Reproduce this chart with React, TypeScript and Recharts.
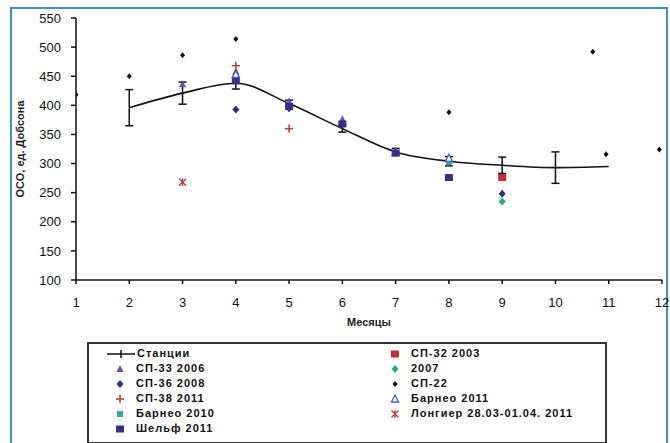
import React from "react";
import {
  ComposedChart,
  Line,
  Scatter,
  XAxis,
  YAxis,
  ErrorBar,
} from "recharts";

// месяцы и шкала
const monthTicks = [1, 2, 3, 4, 5, 6, 7, 8, 9, 10, 11, 12];
const dobsonTicks = [100, 150, 200, 250, 300, 350, 400, 450, 500, 550];

// Станции: среднее и разброс
const stationMonths = [2, 3, 4, 5, 6, 7, 8, 9, 10, 11];
const stationValues = [396, 421, 438, 403, 360, 320, 304, 297, 293, 295];
const stationErrors = [31, 19, 10, 6, 6, 6, 8, 14, 27, 0];

const sp33_2006 = [
  { x: 3, y: 436 },
  { x: 4, y: 458 },
  { x: 5, y: 407 },
  { x: 6, y: 376 },
  { x: 7, y: 322 },
];
const sp36_2008 = [
  { x: 4, y: 393 },
  { x: 5, y: 395 },
  { x: 8, y: 306 },
  { x: 9, y: 248 },
];
const sp38_2011 = [
  { x: 4, y: 468 },
  { x: 5, y: 360 },
];
const barneo2010 = [
  { x: 4, y: 448 },
  { x: 8, y: 302 },
];
const shelf2011 = [
  { x: 4, y: 442 },
  { x: 5, y: 398 },
  { x: 6, y: 368 },
  { x: 7, y: 318 },
  { x: 8, y: 276 },
];
const sp32_2003 = [{ x: 9, y: 276 }];
const year2007 = [{ x: 9, y: 235 }];
const sp22 = [
  { x: 1, y: 418 },
  { x: 2, y: 450 },
  { x: 3, y: 486 },
  { x: 4, y: 514 },
  { x: 8, y: 388 },
  { x: 10.7, y: 492 },
  { x: 10.95, y: 316 },
  { x: 11.95, y: 324 },
];
const barneo2011 = [
  { x: 4, y: 453 },
  { x: 8, y: 309 },
];
const longyear = [{ x: 3, y: 268 }];

const stationData = stationMonths.map((m, i) => ({
  x: m,
  y: stationValues[i],
  err: stationErrors[i],
}));

const FONT = "'Liberation Sans', Arial, sans-serif";

// маркеры в стиле Excel
const drawMarker = (kind: string, color: string, cx: number, cy: number) => {
  switch (kind) {
    case "triangle":
      return (
        <polygon
          points={`${cx},${cy - 4} ${cx + 3.5},${cy + 3} ${cx - 3.5},${cy + 3}`}
          fill={color}
        />
      );
    case "triOutline":
      return (
        <polygon
          points={`${cx},${cy - 4} ${cx + 3.5},${cy + 3} ${cx - 3.5},${cy + 3}`}
          fill="#fff"
          stroke={color}
          strokeWidth={1.3}
        />
      );
    case "diamond":
      return (
        <polygon
          points={`${cx},${cy - 4} ${cx + 3.5},${cy} ${cx},${cy + 4} ${cx - 3.5},${cy}`}
          fill={color}
        />
      );
    case "smallDiamond":
      return (
        <polygon
          points={`${cx},${cy - 3} ${cx + 2.5},${cy} ${cx},${cy + 3} ${cx - 2.5},${cy}`}
          fill={color}
        />
      );
    case "plus":
      return (
        <g stroke={color} strokeWidth={1.5}>
          <line x1={cx - 4} y1={cy} x2={cx + 4} y2={cy} />
          <line x1={cx} y1={cy - 4} x2={cx} y2={cy + 4} />
        </g>
      );
    case "square":
      return <rect x={cx - 3} y={cy - 3} width={6} height={6} fill={color} />;
    case "bigSquare":
      return <rect x={cx - 4} y={cy - 3.5} width={8} height={7} fill={color} />;
    case "star":
      return (
        <g stroke={color} strokeWidth={1.4}>
          <line x1={cx - 3.5} y1={cy - 3.5} x2={cx + 3.5} y2={cy + 3.5} />
          <line x1={cx - 3.5} y1={cy + 3.5} x2={cx + 3.5} y2={cy - 3.5} />
          <line x1={cx} y1={cy - 4} x2={cx} y2={cy + 4} />
        </g>
      );
    default:
      return <circle cx={cx} cy={cy} r={3} fill={color} />;
  }
};

const shapeOf = (kind: string, color: string) => (props: any) =>
  drawMarker(kind, color, props.cx, props.cy);

const scatterSeries = [
  { name: "СП-33 2006", data: sp33_2006, kind: "triangle", color: "#6b4ea8" },
  { name: "СП-36 2008", data: sp36_2008, kind: "diamond", color: "#2d2f8c" },
  { name: "СП-38 2011", data: sp38_2011, kind: "plus", color: "#c0392b" },
  { name: "Барнео 2010", data: barneo2010, kind: "square", color: "#2fa89f" },
  { name: "Шельф 2011", data: shelf2011, kind: "bigSquare", color: "#3b2c8e" },
  { name: "СП-32 2003", data: sp32_2003, kind: "bigSquare", color: "#c62a35" },
  { name: "2007", data: year2007, kind: "diamond", color: "#22b07a" },
  { name: "СП-22", data: sp22, kind: "smallDiamond", color: "#111" },
  { name: "Барнео 2011", data: barneo2011, kind: "triOutline", color: "#3563c2" },
  { name: "Лонгиер 28.03-01.04. 2011", data: longyear, kind: "star", color: "#b24444" },
];

const leftLegend = ["СП-33 2006", "СП-36 2008", "СП-38 2011", "Барнео 2010", "Шельф 2011"];
const rightLegend = ["СП-32 2003", "2007", "СП-22", "Барнео 2011", "Лонгиер 28.03-01.04. 2011"];

const LegendRow = ({ name, top, left }: { name: string; top: number; left: number }) => {
  const s = scatterSeries.find((d) => d.name === name)!;
  return (
    <div style={{ position: "absolute", top, left, display: "flex", alignItems: "center" }}>
      <svg width={12} height={12}>
        {drawMarker(s.kind, s.color, 6, 6)}
      </svg>
      <span style={{ marginLeft: 10 }}>{name}</span>
    </div>
  );
};

export default function App() {
  return (
    <div style={{ position: "absolute", left: 0, top: 0, width: 670, height: 443, background: "#fff", overflow: "hidden" }}>
      {/* синяя рамка */}
      <div
        style={{
          position: "absolute",
          left: 10,
          top: 7,
          width: 658,
          height: 460,
          border: "2px solid #3d8fd6",
          boxSizing: "border-box",
        }}
      />
      <div style={{ position: "absolute", left: 0, top: 0 }}>
        <ComposedChart
          width={670}
          height={340}
          margin={{ top: 18, right: 8, left: 16, bottom: 30 }}
        >
          <XAxis
            dataKey="x"
            type="number"
            domain={[1, 12]}
            ticks={monthTicks}
            allowDataOverflow
            tickSize={4}
            tickMargin={14}
            stroke="#111"
            strokeWidth={1.5}
            tick={{ fill: "#111", fontSize: 13, fontFamily: FONT }}
            label={{
              value: "Месяцы",
              position: "bottom",
              offset: 8,
              style: { fontSize: 11, fontWeight: "bold", fontFamily: FONT, fill: "#222" },
            }}
          />
          <YAxis
            dataKey="y"
            type="number"
            domain={[100, 550]}
            ticks={dobsonTicks}
            allowDataOverflow
            width={60}
            tickSize={5}
            tickMargin={10}
            stroke="#111"
            strokeWidth={1.5}
            tick={{ fill: "#111", fontSize: 13, fontFamily: FONT }}
            label={{
              value: "ОСО, ед. Добсона",
              angle: -90,
              position: "insideLeft",
              offset: 4,
              style: { textAnchor: "middle", fontSize: 11, fontWeight: "bold", fontFamily: FONT, fill: "#222" },
            }}
          />
          <Line
            data={stationData}
            dataKey="y"
            type="monotone"
            stroke="#111"
            strokeWidth={1.6}
            dot={false}
            isAnimationActive={false}
          >
            <ErrorBar dataKey="err" direction="y" width={4} stroke="#111" strokeWidth={1.5} />
          </Line>
          {scatterSeries.map((s) => (
            <Scatter
              key={s.name}
              name={s.name}
              data={s.data}
              dataKey="y"
              shape={shapeOf(s.kind, s.color)}
              isAnimationActive={false}
            />
          ))}
        </ComposedChart>
      </div>
      {/* легенда */}
      <div
        style={{
          position: "absolute",
          left: 87,
          top: 342,
          width: 520,
          height: 102,
          border: "2px solid #333",
          boxSizing: "border-box",
          fontFamily: FONT,
          fontSize: 11,
          fontWeight: "bold",
          letterSpacing: 1,
          color: "#111",
          lineHeight: "13px",
        }}
      >
        <div style={{ position: "absolute", top: 3, left: 18, display: "flex", alignItems: "center" }}>
          <svg width={28} height={12}>
            <line x1={0} y1={6} x2={28} y2={6} stroke="#111" strokeWidth={1.5} />
            <line x1={14} y1={2} x2={14} y2={10} stroke="#111" strokeWidth={1.5} />
          </svg>
          <span style={{ marginLeft: 2 }}>Станции</span>
        </div>
        {leftLegend.map((n, i) => (
          <LegendRow key={n} name={n} top={18 + i * 15} left={25} />
        ))}
        {rightLegend.map((n, i) => (
          <LegendRow key={n} name={n} top={3 + i * 15} left={300} />
        ))}
      </div>
    </div>
  );
}
